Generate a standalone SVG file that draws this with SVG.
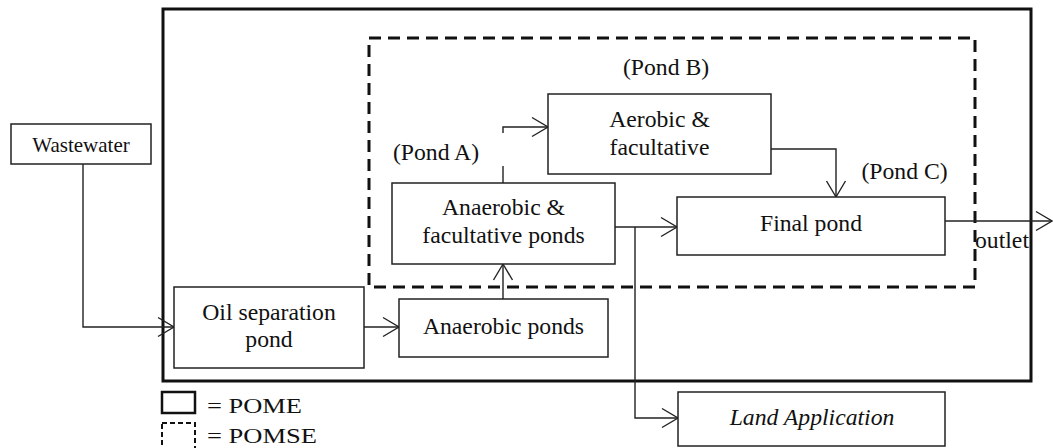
<svg xmlns="http://www.w3.org/2000/svg" width="1053" height="448" viewBox="0 0 1053 448">
<style>
text{font-family:'Liberation Serif','DejaVu Serif',serif;fill:#111;font-size:23.7px;text-anchor:middle}
.box{fill:#fff;stroke:#222;stroke-width:1.5}
.conn{fill:none;stroke:#222;stroke-width:1.4}
.outer{fill:none;stroke:#111;stroke-width:3}
.dash{fill:none;stroke:#111;stroke-width:3;stroke-dasharray:12 7}
</style>
<defs>
<marker id="arr" markerUnits="userSpaceOnUse" markerWidth="20" markerHeight="22" viewBox="-18 -11 20 22" refX="0" refY="0" orient="auto" overflow="visible">
<path d="M-16,-9.5 L0,0 L-16,9.5" fill="none" stroke="#222" stroke-width="1.4"/>
</marker>
</defs>
<g id="boundaries">
<rect class="outer" x="163" y="9" width="868" height="372"/>
<rect class="dash" x="369" y="38" width="606" height="249"/>
</g>
<g id="connectors">
<path class="conn" d="M83,164 V327 H174" marker-end="url(#arr)"/>
<path class="conn" d="M364,327 H399" marker-end="url(#arr)"/>
<path class="conn" d="M503,299 V264" marker-end="url(#arr)"/>
<path class="conn" d="M503,183 V166"/>
<path class="conn" d="M503,133 V127 H548" marker-end="url(#arr)"/>
<path class="conn" d="M771,149 H836 V197" marker-end="url(#arr)"/>
<path class="conn" d="M615,227 H677" marker-end="url(#arr)"/>
<path class="conn" d="M635,227 V418 H678" marker-end="url(#arr)"/>
<path class="conn" d="M945,221 H1052" marker-end="url(#arr)"/>
</g>
<g id="wastewater">
<rect class="box" x="11" y="124" width="140" height="40"/>
<text x="81" y="152" style="font-size:21px">Wastewater</text>
</g>
<g id="oil-separation">
<rect class="box" x="174" y="287" width="190" height="81"/>
<text x="269" y="320">Oil separation</text>
<text x="269" y="347">pond</text>
</g>
<g id="anaerobic-ponds">
<rect class="box" x="399" y="299" width="209" height="58"/>
<text x="503.5" y="334">Anaerobic ponds</text>
</g>
<g id="pond-a">
<rect class="box" x="392" y="183" width="223" height="81"/>
<text x="503.5" y="215">Anaerobic &amp;</text>
<text x="503.5" y="243">facultative ponds</text>
<text x="436" y="160">(Pond A)</text>
</g>
<g id="pond-b">
<rect class="box" x="548" y="94" width="223" height="80"/>
<text x="659.5" y="127">Aerobic &amp;</text>
<text x="659.5" y="155">facultative</text>
<text x="666" y="75">(Pond B)</text>
</g>
<g id="pond-c">
<rect class="box" x="677" y="197" width="268" height="58"/>
<text x="811" y="231">Final pond</text>
<text x="904.5" y="179">(Pond C)</text>
</g>
<g id="outlet">
<text x="1002" y="248">outlet</text>
</g>
<g id="land-application">
<rect class="box" x="678" y="392" width="267" height="54"/>
<text x="812" y="425" style="font-style:italic">Land Application</text>
</g>
<g id="legend">
<rect x="162" y="392" width="33" height="21" fill="none" stroke="#111" stroke-width="2.5"/>
<text x="207" y="413" style="text-anchor:start;font-size:22px" textLength="95" lengthAdjust="spacingAndGlyphs">= POME</text>
<rect x="162" y="423" width="33" height="30" fill="none" stroke="#111" stroke-width="2" stroke-dasharray="5 3"/>
<text x="207" y="443" style="text-anchor:start;font-size:22px" textLength="110" lengthAdjust="spacingAndGlyphs">= POMSE</text>
</g>
</svg>
